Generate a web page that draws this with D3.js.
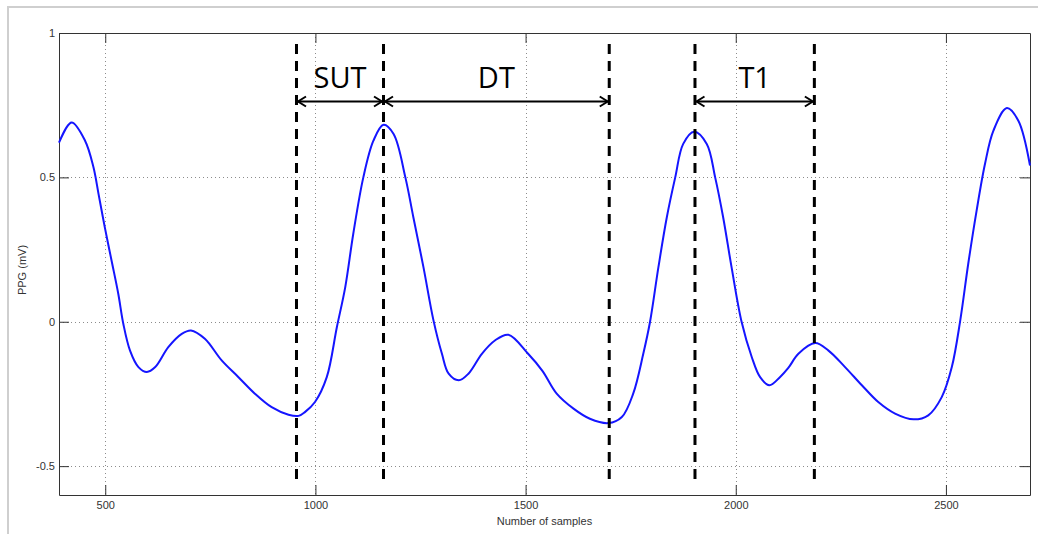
<!DOCTYPE html>
<html>
<head>
<meta charset="utf-8">
<script src="https://cdn.jsdelivr.net/npm/d3@7"></script>
<style>
  body { margin: 0; background: #fff; }
  svg { display: block; }
</style>
</head>
<body>
<svg id="chart" width="1038" height="534"></svg>
<script>
// PPG trace (sample index, mV)
const sampleIdx = [390, 420, 452, 472, 484, 499, 515, 531, 543, 559, 579, 599, 619, 650, 682, 704, 737, 777, 817, 856, 896, 936, 960, 975, 999, 1027, 1051, 1071, 1090, 1114, 1138, 1162, 1186, 1214, 1233, 1257, 1281, 1301, 1317, 1341, 1364, 1396, 1427, 1459, 1506, 1540, 1574, 1614, 1653, 1697, 1729, 1756, 1780, 1796, 1816, 1836, 1856, 1875, 1901, 1931, 1951, 1970, 1990, 2014, 2038, 2058, 2080, 2105, 2125, 2149, 2189, 2220, 2260, 2300, 2339, 2379, 2423, 2458, 2490, 2514, 2534, 2553, 2573, 2593, 2613, 2645, 2672, 2700];
const ppgValues = [0.62, 0.69, 0.627, 0.535, 0.443, 0.327, 0.212, 0.097, -0.007, -0.10, -0.157, -0.174, -0.157, -0.088, -0.042, -0.03, -0.059, -0.134, -0.192, -0.249, -0.296, -0.322, -0.326, -0.313, -0.278, -0.192, -0.019, 0.12, 0.304, 0.5, 0.627, 0.682, 0.65, 0.5, 0.362, 0.189, 0.004, -0.111, -0.18, -0.203, -0.18, -0.111, -0.065, -0.045, -0.111, -0.17, -0.249, -0.301, -0.336, -0.351, -0.33, -0.249, -0.111, -0.001, 0.189, 0.362, 0.5, 0.616, 0.658, 0.616, 0.5, 0.362, 0.189, -0.001, -0.122, -0.192, -0.22, -0.192, -0.16, -0.111, -0.074, -0.099, -0.157, -0.22, -0.278, -0.318, -0.338, -0.324, -0.261, -0.157, 0.004, 0.2, 0.385, 0.547, 0.662, 0.74, 0.697, 0.541];

// dashed markers and the intervals between them
const markerIdx = [955, 1162, 1699, 1903, 2187];
const spanLabels = ['SUT', 'DT', 'T1'];
const spanStart = [955, 1162, 1903];
const spanEnd = [1162, 1699, 2187];

const xTicks = [500, 1000, 1500, 2000, 2500];
const yTicks = [-0.5, 0, 0.5, 1];
const yTickLabels = ['-0.5', '0', '0.5', '1'];
const yGrid = [-0.5, 0, 0.5];

const svg = d3.select('#chart');
const margin = { top: 33, right: 8, bottom: 39, left: 59 };
const width = 1038, height = 534;

const x = d3.scaleLinear().domain([390, 2700]).range([margin.left, width - margin.right]);
const y = d3.scaleLinear().domain([-0.6, 1]).range([height - margin.bottom, margin.top]);

// outer frame (left + top only visible)
svg.append('path')
    .attr('d', `M8,${height} L8,7 L${width},7`)
    .attr('fill', 'none')
    .attr('stroke', '#cfcfcf')
    .attr('stroke-width', 2);

// grid
const grid = svg.append('g').attr('stroke', '#8c8c8c').attr('stroke-width', 1).attr('stroke-dasharray', '1,3');
grid.selectAll('line.gx').data(xTicks).join('line')
    .attr('x1', d => Math.round(x(d)) + 0.5).attr('x2', d => Math.round(x(d)) + 0.5)
    .attr('y1', y(1)).attr('y2', y(-0.6));
grid.selectAll('line.gy').data(yGrid).join('line')
    .attr('x1', x(390)).attr('x2', x(2700))
    .attr('y1', d => Math.round(y(d)) + 0.5).attr('y2', d => Math.round(y(d)) + 0.5);

// axes: ticks pointing inward on all sides
const tickLen = 10;
const font = 'Liberation Sans, Arial, sans-serif';
const styleAxis = g => {
    g.selectAll('path').attr('stroke', '#333');
    g.selectAll('line').attr('stroke', '#333');
    g.selectAll('text').attr('font-family', font).attr('font-size', 11).attr('fill', '#333');
};
svg.append('g')
    .attr('transform', `translate(0,${y(-0.6)})`)
    .call(d3.axisBottom(x).tickValues(xTicks).tickFormat(d3.format('d')).tickSizeInner(-tickLen).tickSizeOuter(0).tickPadding(6))
    .call(styleAxis);
svg.append('g')
    .attr('transform', `translate(0,${y(1)})`)
    .call(d3.axisTop(x).tickValues(xTicks).tickFormat('').tickSizeInner(-tickLen).tickSizeOuter(0))
    .call(styleAxis);
svg.append('g')
    .attr('transform', `translate(${x(390)},0)`)
    .call(d3.axisLeft(y).tickValues(yTicks).tickFormat((d, i) => yTickLabels[i]).tickSizeInner(-tickLen).tickSizeOuter(0).tickPadding(4))
    .call(styleAxis);
svg.append('g')
    .attr('transform', `translate(${x(2700)},0)`)
    .call(d3.axisRight(y).tickValues(yTicks).tickFormat('').tickSizeInner(-tickLen).tickSizeOuter(0))
    .call(styleAxis);

// axis titles
svg.append('text')
    .attr('x', (x(390) + x(2700)) / 2).attr('y', 525)
    .attr('text-anchor', 'middle')
    .attr('font-family', font).attr('font-size', 11).attr('fill', '#333')
    .text('Number of samples');
svg.append('text')
    .attr('transform', `translate(26,${(y(1) + y(-0.6)) / 2 + 6}) rotate(-90)`)
    .attr('text-anchor', 'middle')
    .attr('font-family', font).attr('font-size', 11).attr('fill', '#333')
    .text('PPG (mV)');

// PPG curve
const pts = sampleIdx.map((s, i) => [s, ppgValues[i]]);
const line = d3.line().x(d => x(d[0])).y(d => y(d[1])).curve(d3.curveCatmullRom.alpha(0.5));
svg.append('path')
    .datum(pts)
    .attr('fill', 'none')
    .attr('stroke', '#1515ff')
    .attr('stroke-width', 2)
    .attr('d', line);

// dashed markers
svg.selectAll('line.marker').data(markerIdx).join('line')
    .attr('class', 'marker')
    .attr('x1', d => x(d)).attr('x2', d => x(d))
    .attr('y1', 44).attr('y2', 484)
    .attr('stroke', '#000')
    .attr('stroke-width', 3)
    .attr('stroke-dasharray', '10,7');

// interval arrows
const arrowY = 101.5;
const arrows = svg.append('g').attr('stroke', '#000').attr('stroke-width', 2).attr('fill', 'none');
spanStart.forEach((s, i) => {
    const x0 = x(s) + 1.5, x1 = x(spanEnd[i]) - 1.5;
    arrows.append('path').attr('d', `M${x0},${arrowY} L${x1},${arrowY}`);
    arrows.append('path').attr('d', `M${x0 + 8},${arrowY - 5} L${x0},${arrowY} L${x0 + 8},${arrowY + 5}`);
    arrows.append('path').attr('d', `M${x1 - 8},${arrowY - 5} L${x1},${arrowY} L${x1 - 8},${arrowY + 5}`);
    svg.append('text')
        .attr('x', x((s + spanEnd[i]) / 2)).attr('y', 88)
        .attr('text-anchor', 'middle')
        .attr('font-family', 'Open Sans, Noto Sans, sans-serif').attr('font-size', 29).attr('fill', '#000')
        .text(spanLabels[i]);
});
</script>
</body>
</html>
